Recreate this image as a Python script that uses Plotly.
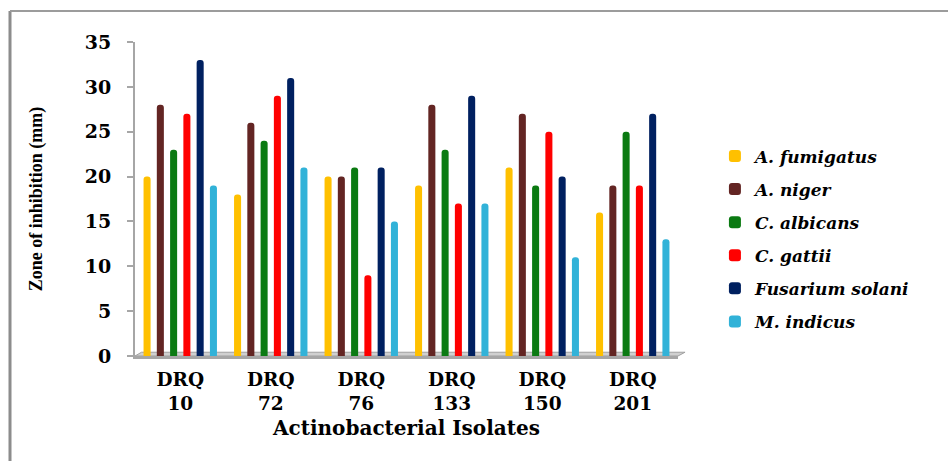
import plotly.graph_objects as go

# Antifungal activity of actinobacterial isolates (zone of inhibition, mm)
isolates = ["DRQ<br>10", "DRQ<br>72", "DRQ<br>76", "DRQ<br>133", "DRQ<br>150", "DRQ<br>201"]

a_fumigatus = [20, 18, 20, 19, 21, 16]
a_niger = [28, 26, 20, 28, 27, 19]
c_albicans = [23, 24, 21, 23, 19, 25]
c_gattii = [27, 29, 9, 17, 25, 19]
fusarium_solani = [33, 31, 21, 29, 20, 27]
m_indicus = [19, 21, 15, 17, 11, 13]

y_ticks = [0, 5, 10, 15, 20, 25, 30, 35]

series = [
    ("A. fumigatus", a_fumigatus, "#FFC000"),
    ("A. niger", a_niger, "#632523"),
    ("C. albicans", c_albicans, "#0B7A12"),
    ("C. gattii", c_gattii, "#FF0000"),
    ("Fusarium solani", fusarium_solani, "#002060"),
    ("M. indicus", m_indicus, "#31B2D8"),
]

serif = "DejaVu Serif"
times = "Liberation Serif, DejaVu Serif, serif"

fig = go.Figure()
for name, vals, color in series:
    fig.add_trace(go.Bar(
        x=isolates,
        y=vals,
        name=f"<b><i>{name}</i></b>",
        legendgroup=name,
        marker=dict(color=color, line=dict(width=0)),
    ))

axis_grey = "#A6A6A6"

# outer frame of the chart area (left and top edges)
frame = [
    dict(type="line", xref="paper", yref="paper", x0=-0.2302, x1=-0.2302, y0=1.0987, y1=-0.45,
         line=dict(color="#8C8C8C", width=3)),
    dict(type="line", xref="paper", yref="paper", x0=-0.2302, x1=1.6, y0=1.0987, y1=1.0987,
         line=dict(color="#9C9C9C", width=2)),
    # floor of the plot
    dict(type="path", xref="paper", yref="paper",
         path="M 0,0 L 1.0,0 L 1.013,0.012 L 0.012,0.012 Z",
         fillcolor="#D0D0D0", line=dict(color="#A0A0A0", width=1), layer="below"),
]

fig.update_layout(
    width=948,
    height=461,
    margin=dict(l=135, r=270, t=42, b=105),
    paper_bgcolor="white",
    plot_bgcolor="white",
    barmode="group",
    bargap=0.12,
    bargroupgap=0.47,
    barcornerradius=3,
    shapes=frame,
    font=dict(family=serif, color="black"),
    xaxis=dict(
        range=[-0.5, 5.5],
        showline=True,
        linecolor=axis_grey,
        linewidth=3,
        ticks="",
        showgrid=False,
        tickfont=dict(family=serif, size=18.5, color="black"),
        ticklabelstandoff=5,
        title=dict(text="<b>Actinobacterial Isolates</b>",
                   font=dict(family=serif, size=20, color="black"), standoff=8),
        automargin=False,
    ),
    yaxis=dict(
        range=[0, 35],
        tickvals=y_ticks,
        ticktext=[f"<b>{v}</b>" for v in y_ticks],
        showline=True,
        linecolor=axis_grey,
        linewidth=2,
        ticks="outside",
        ticklen=6,
        tickwidth=2,
        tickcolor=axis_grey,
        showgrid=False,
        zeroline=False,
        tickfont=dict(family=serif, size=19, color="black"),
        ticklabelstandoff=12,
        title=dict(text="<b>Zone of inhibition (mm)</b>",
                   font=dict(family=times, size=18, color="black"), standoff=37),
        automargin=False,
    ),
    legend=dict(
        x=1.068,
        y=0.373,
        xanchor="left",
        yanchor="middle",
        traceorder="grouped",
        tracegroupgap=8,
        font=dict(family=serif, size=17, color="black"),
        bgcolor="rgba(0,0,0,0)",
    ),
)

fig.update_xaxes(ticktext=[f"<b>{t.replace('<br>', '</b><br><b>')}</b>" for t in isolates],
                 tickvals=isolates)

fig.write_html("out.html")
